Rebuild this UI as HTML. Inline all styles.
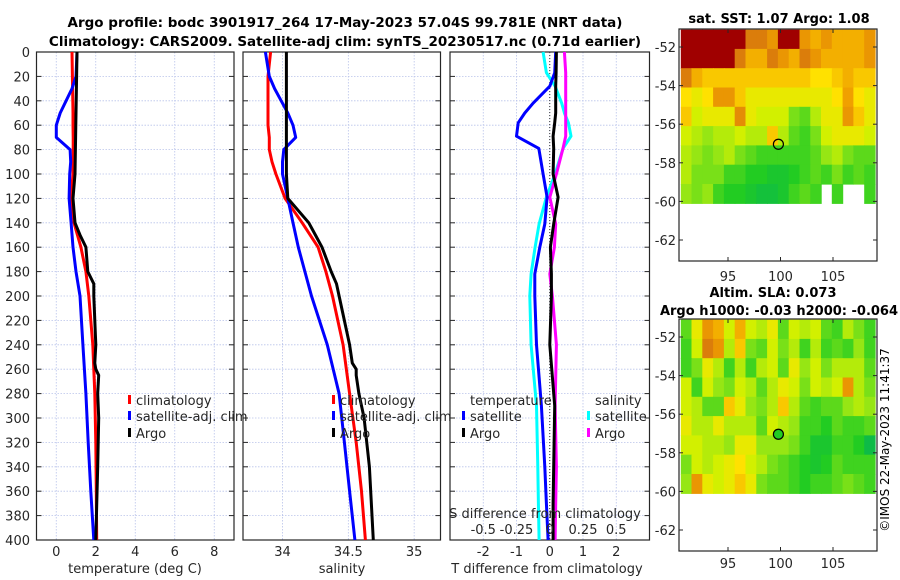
<!DOCTYPE html>
<html><head><meta charset="utf-8"><style>
html,body{margin:0;padding:0;background:#fff;}
svg{display:block;font-family:"DejaVu Sans","Liberation Sans",sans-serif;}
</style></head><body>
<svg id="fig" width="900" height="580" viewBox="0 0 900 580" xmlns="http://www.w3.org/2000/svg">
<text x="345" y="27" text-anchor="middle" font-size="13.5" font-weight="bold">Argo profile: bodc 3901917_264 17-May-2023 57.04S 99.781E (NRT data)</text>
<text x="345" y="46" text-anchor="middle" font-size="13.5" font-weight="bold">Climatology: CARS2009. Satellite-adj clim: synTS_20230517.nc (0.71d earlier)</text>
<text x="779" y="23" text-anchor="middle" font-size="13" font-weight="bold">sat. SST: 1.07 Argo: 1.08</text>
<text x="773" y="297" text-anchor="middle" font-size="13" font-weight="bold">Altim. SLA: 0.073</text>
<text x="779" y="315" text-anchor="middle" font-size="13" font-weight="bold">Argo h1000: -0.03 h2000: -0.064</text>
<text transform="translate(889,440) rotate(-90)" text-anchor="middle" font-size="12">©IMOS 22-May-2023 11:41:37</text>
</svg>
<script>
// ---------- data ----------
const depthT = [0,20,30,40,50,60,70,80,90,100,120,140,160,180,200,240,280,320,360,400];
const tempClim = [0.8,0.82,0.83,0.84,0.85,0.85,0.86,0.86,0.86,0.85,0.75,0.9,1.25,1.5,1.65,1.85,1.95,2.0,2.03,2.05];
const tempSat  = [1.05,1.0,0.8,0.5,0.2,0.0,0.0,0.7,0.73,0.68,0.65,0.75,0.85,1.0,1.2,1.35,1.5,1.62,1.75,1.9];
const depthA = [0,50,100,120,140,150,160,180,190,200,240,255,260,265,280,300,340,400];
const tempArgo = [1.05,1.0,0.95,0.85,0.95,1.2,1.5,1.6,1.9,1.9,2.0,1.95,2.0,2.15,2.1,2.15,2.1,2.0];
const salClim = [33.91,33.89,33.89,33.89,33.89,33.89,33.9,33.9,33.92,33.95,34.02,34.15,34.27,34.33,34.38,34.46,34.51,34.56,34.6,34.63];
const salSat  = [33.87,33.9,33.94,33.99,34.04,34.08,34.1,34.01,34.0,34.0,34.04,34.08,34.12,34.17,34.22,34.34,34.43,34.47,34.51,34.55];
const salArgo = [34.03,34.03,34.03,34.04,34.2,34.25,34.3,34.37,34.41,34.43,34.51,34.53,34.56,34.56,34.58,34.62,34.66,34.69];
const depthD = [0,17,28,42,50,58,69,79,100,119,141,160,182,200,240,290,340,370,400];
const dTsat  = [0.18,0.15,0.0,-0.5,-0.75,-0.95,-1.0,-0.33,-0.2,-0.08,-0.15,-0.3,-0.45,-0.45,-0.4,-0.25,-0.15,-0.1,-0.05];
const dTargo = [0.2,0.19,0.18,0.18,0.18,0.15,0.1,0.12,0.1,0.25,0.12,0.02,0.05,0.05,0.0,0.15,0.12,0.1,0.1];
const dSsat  = [-0.05,-0.025,0.04,0.09,0.11,0.14,0.16,0.1,0.04,-0.025,-0.08,-0.11,-0.14,-0.15,-0.14,-0.1,-0.09,-0.085,-0.08];
const dSargo = [0.11,0.12,0.12,0.12,0.12,0.12,0.12,0.1,0.05,0.0,0.045,0.035,0.0,0.02,0.05,0.04,0.05,0.045,0.04];
const depthTicks = [0,20,40,60,80,100,120,140,160,180,200,220,240,260,280,300,320,340,360,380,400];
const tempTicks = [0,2,4,6,8];
const salTicks = [34,34.5,35];
const salTickLabels = ["34","34.5","35"];
const diffTicks = [-2,-1,0,1,2];
const sDiffTicks = [-0.5,-0.25,0,0.25,0.5];
const sDiffLabels = ["-0.5","-0.25","0","0.25","0.5"];
const latTicks = [-52,-54,-56,-58,-60,-62];
const lonTicks = [95,100,105];
const argoLon = 99.8, argoLat = -57.04;
// heatmap values (0 = cold/low, 1 = warm/high, -1 = missing), 18 cols x 9 rows
const sstGrid = [
[1,1,1,1,1,1,0.85,0.85,0.8,1,1,0.8,0.75,0.8,0.75,0.75,0.75,0.8],
[1,1,1,1,1,0.85,0.75,0.75,0.85,0.8,0.75,0.85,0.8,0.75,0.75,0.75,0.75,0.8],
[0.85,0.75,0.7,0.7,0.7,0.7,0.7,0.7,0.7,0.7,0.7,0.7,0.65,0.65,0.7,0.75,0.7,0.7],
[0.65,0.6,0.65,0.8,0.8,0.7,0.6,0.6,0.6,0.6,0.6,0.6,0.6,0.6,0.65,0.78,0.65,0.6],
[0.7,0.55,0.6,0.6,0.6,0.82,0.6,0.55,0.55,0.55,0.4,0.35,0.5,0.6,0.6,0.8,0.7,0.6],
[0.55,0.5,0.45,0.5,0.5,0.55,0.5,0.5,0.7,0.5,0.35,0.3,0.4,0.55,0.6,0.6,0.6,0.55],
[0.5,0.45,0.4,0.45,0.5,0.4,0.35,0.3,0.3,0.3,0.3,0.3,0.35,0.45,0.5,0.4,0.35,0.35],
[0.5,0.4,0.4,0.4,0.3,0.3,0.25,0.25,0.2,0.2,0.25,0.3,0.35,0.3,0.4,0.3,0.35,0.3],
[0.45,0.4,0.45,0.3,0.25,0.25,0.2,0.15,0.15,0.2,0.3,0.35,0.3,-1,0.3,-1,-1,0.3]];
const slaGrid = [
[0.35,0.6,0.8,0.75,0.55,0.75,0.55,0.5,0.6,0.35,0.55,0.5,0.55,0.35,0.3,0.5,0.4,0.3],
[0.3,0.55,0.85,0.8,0.5,0.7,0.4,0.35,0.55,0.4,0.5,0.3,0.5,0.3,0.35,0.3,0.45,0.3],
[0.3,0.4,0.6,0.5,0.3,0.5,0.3,0.5,0.55,0.35,0.6,0.45,0.55,0.4,0.5,0.5,0.5,0.35],
[0.55,0.3,0.55,0.45,0.4,0.55,0.5,0.35,0.5,0.6,0.55,0.4,0.55,0.5,0.55,0.8,0.5,0.4],
[0.55,0.5,0.35,0.35,0.7,0.6,0.45,0.4,0.5,0.7,0.5,0.35,0.3,0.35,0.35,0.45,0.5,0.45],
[0.6,0.5,0.5,0.6,0.5,0.5,0.5,0.35,0.55,0.5,0.45,0.3,0.3,0.25,0.35,0.3,0.3,0.35],
[0.55,0.55,0.5,0.5,0.45,0.6,0.6,0.45,0.45,0.45,0.4,0.3,0.2,0.2,0.3,0.3,0.25,0.1],
[0.4,0.55,0.5,0.55,0.6,0.65,0.55,0.5,0.4,0.35,0.3,0.25,0.2,0.25,0.35,0.3,0.3,0.3],
[0.45,0.8,0.6,0.55,0.6,0.7,0.6,0.4,0.35,0.35,0.3,0.25,0.3,0.3,0.35,0.4,0.35,0.3]];

// ---------- helpers ----------
const svg = document.getElementById('fig');
const NS = 'http://www.w3.org/2000/svg';
function mk(tag, attrs, parent){const e=document.createElementNS(NS,tag);for(const k in attrs)e.setAttribute(k,attrs[k]);(parent||svg).appendChild(e);return e;}
function txt(x,y,s,size,anchor,parent){const t=mk('text',{x:x,y:y,'font-size':size,'text-anchor':anchor||'middle',fill:'#262626'},parent);t.textContent=s;return t;}
const Y0=52, Y1=540;
const yD = d => Y0 + d*(Y1-Y0)/400;

function panel(x0,x1,vmin,vmax,name){
  const g=mk('g',{});
  
  
  const sx = v => x0 + (v-vmin)*(x1-x0)/(vmax-vmin);
  return {g,sx};
}
function gridAndFrame(p,x0,x1,xt){
  xt.forEach(v=>{const l=mk('line',{x1:p.sx(v),x2:p.sx(v),y1:Y0,y2:Y1,stroke:'#b9c3ea','stroke-width':0.8,'stroke-dasharray':'1.5,1.5'},p.g);
    
    });
  depthTicks.forEach(d=>{const l=mk('line',{x1:x0,x2:x1,y1:yD(d),y2:yD(d),stroke:'#b9c3ea','stroke-width':0.8,'stroke-dasharray':'1.5,1.5'},p.g);
    
    
    mk('line',{x1:x0,x2:x0+5,y1:yD(d),y2:yD(d),stroke:'#262626'},p.g);
    mk('line',{x1:x1-5,x2:x1,y1:yD(d),y2:yD(d),stroke:'#262626'},p.g);});
  const r=mk('rect',{x:x0,y:Y0,width:x1-x0,height:Y1-Y0,fill:'none',stroke:'#262626','stroke-width':1.2},p.g);
  
  
}
function line(p,xs,ds,color,name,w){
  const pts=xs.map((v,i)=>p.sx(v).toFixed(1)+','+yD(ds[i]).toFixed(1)).join(' ');
  const l=mk('polyline',{points:pts,fill:'none',stroke:color,'stroke-width':w||3,'stroke-linejoin':'round'},p.g);
  
  
}
function legendEntry(x,y,color,label,parent){
  const g=mk('g',{},parent);
  
  
  mk('rect',{x:x,y:y-10,width:3,height:9,fill:color},g);
  txt(x+8,y,label,13,'start',g);
}

// ---------- panel 1: temperature ----------
const p1=panel(36.5,234,-1,9,'temperature-panel');
gridAndFrame(p1,36.5,234,tempTicks);
line(p1,tempClim,depthT,'#ff0000','temp-climatology-line');
line(p1,tempSat,depthT,'#0000ff','temp-satellite-line');
line(p1,tempArgo,depthA,'#000000','temp-argo-line');
depthTicks.forEach(d=>txt(30,yD(d)+5,String(d),13,'end',p1.g));
tempTicks.forEach(v=>txt(p1.sx(v),556,String(v),13,'middle',p1.g));
txt(135,573,'temperature (deg C)',13,'middle',p1.g);
legendEntry(128,405,'#ff0000','climatology',p1.g);
legendEntry(128,421,'#0000ff','satellite-adj. clim',p1.g);
legendEntry(128,438,'#000000','Argo',p1.g);

// ---------- panel 2: salinity ----------
const p2=panel(243,440.5,33.7,35.2,'salinity-panel');
gridAndFrame(p2,243,440.5,salTicks);
line(p2,salClim,depthT,'#ff0000','sal-climatology-line');
line(p2,salSat,depthT,'#0000ff','sal-satellite-line');
line(p2,salArgo,depthA,'#000000','sal-argo-line');
salTicks.forEach((v,i)=>txt(p2.sx(v),556,salTickLabels[i],13,'middle',p2.g));
txt(342,573,'salinity',13,'middle',p2.g);
legendEntry(332,405,'#ff0000','climatology',p2.g);
legendEntry(332,421,'#0000ff','satellite-adj. clim',p2.g);
legendEntry(332,438,'#000000','Argo',p2.g);

// ---------- panel 3: differences ----------
const p3=panel(450,649.5,-3,3,'difference-panel');
gridAndFrame(p3,450,649.5,diffTicks);
const z=mk('line',{x1:p3.sx(0),x2:p3.sx(0),y1:Y0,y2:Y1,stroke:'#333','stroke-width':1,'stroke-dasharray':'1,2'},p3.g);


line(p3,dSsat.map(s=>s*4),depthD,'#00ffff','sal-diff-satellite-line');
line(p3,dSargo.map(s=>s*4),depthD,'#ff00ff','sal-diff-argo-line');
line(p3,dTsat,depthD,'#0000ff','temp-diff-satellite-line');
line(p3,dTargo,depthD,'#000000','temp-diff-argo-line');
diffTicks.forEach(v=>txt(p3.sx(v),556,String(v),13,'middle',p3.g));
txt(547,573,'T difference from climatology',13,'middle',p3.g);
txt(545,518,'S difference from climatology',13,'middle',p3.g);
sDiffTicks.forEach((v,i)=>txt(p3.sx(v*4),534,sDiffLabels[i],13,'middle',p3.g));
txt(470,405,'temperature',13,'start',p3.g);
legendEntry(462,421,'#0000ff','satellite',p3.g);
legendEntry(462,438,'#000000','Argo',p3.g);
txt(595,405,'salinity',13,'start',p3.g);
legendEntry(587,421,'#00ffff','satellite',p3.g);
legendEntry(587,438,'#ff00ff','Argo',p3.g);

// ---------- maps ----------
const cstops=[[0,[0,176,96]],[0.25,[34,204,34]],[0.45,[150,230,20]],[0.55,[210,240,0]],[0.65,[255,225,0]],[0.78,[240,160,0]],[0.88,[210,110,16]],[1,[160,0,0]]];
function cmap(v){for(let i=1;i<cstops.length;i++){if(v<=cstops[i][0]){const a=cstops[i-1],b=cstops[i],t=(v-a[0])/(b[0]-a[0]);return 'rgb('+a[1].map((c,k)=>Math.round(c+(b[1][k]-c)*t)).join(',')+')';}}return 'rgb(160,0,0)';}
function map(name,fx0,fx1,fy0,fy1,yLat52,yLat62,grid,ty){
  const g=mk('g',{});
  
  
  const sy = lat => yLat52 + (-52-lat)*(yLat62-yLat52)/10;
  const sx = lon => 728 + (lon-95)*10.5;
  const lonA=90.5, lonB=109, latA=-51.1, latB=-60.1;
  const nr=grid.length, nc=grid[0].length;
  const cw=(sx(lonB)-sx(lonA))/nc, ch=(sy(latB)-sy(latA))/nr;
  grid.forEach((row,r)=>row.forEach((v,c)=>{
    if(v<0) return;
    const cell=mk('rect',{x:(sx(lonA)+c*cw).toFixed(1),y:(Math.max(fy0,sy(latA))+r*ch).toFixed(1),width:(cw+0.6).toFixed(1),height:(ch+0.6).toFixed(1),fill:cmap(v)},g);
    
    
  }));
  const fr=mk('rect',{x:fx0,y:fy0,width:fx1-fx0,height:fy1-fy0,fill:'none',stroke:'#262626','stroke-width':1.2},g);
  
  
  latTicks.forEach(l=>{mk('line',{x1:fx0,x2:fx0+4,y1:sy(l),y2:sy(l),stroke:'#262626'},g);mk('line',{x1:fx1-4,x2:fx1,y1:sy(l),y2:sy(l),stroke:'#262626'},g);txt(fx0-3,sy(l)+5,String(l),13,'end',g);});
  lonTicks.forEach(l=>{mk('line',{x1:sx(l),x2:sx(l),y1:fy1-4,y2:fy1,stroke:'#262626'},g);mk('line',{x1:sx(l),x2:sx(l),y1:fy0,y2:fy0+4,stroke:'#262626'},g);txt(sx(l),ty,String(l),13,'middle',g);});
  const m=mk('circle',{cx:sx(argoLon),cy:sy(argoLat),r:5,fill:name==='sla-map'?'#22cc22':'none',stroke:'#000','stroke-width':1.2},g);
  
  
}
map('sst-map',679,877,29,261,47,240,sstGrid,281);
map('sla-map',679,877,319,551,337,530,slaGrid,568);
</script>
</body></html>
